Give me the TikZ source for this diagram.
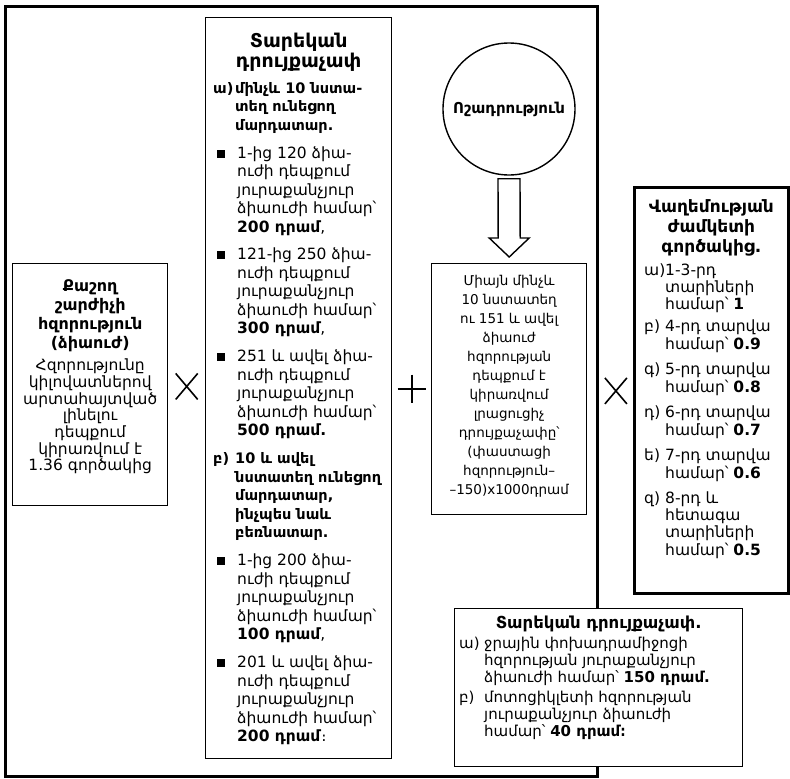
\documentclass[tikz,border=0pt]{standalone}
\usepackage{fontspec}
\setmainfont{DejaVu Sans}
\usetikzlibrary{positioning,calc}

\newcommand{\hangrow}[3]{\begin{tabular}[t]{@{}l@{}l@{}}\makebox[#1][l]{#2}&\begin{tabular}[t]{@{}l@{}}#3\end{tabular}\end{tabular}}
\newcommand{\blt}{\hspace*{4pt}\rule[0.5pt]{8pt}{8pt}}

\begin{document}
\begin{tikzpicture}[x=1pt, y=-1pt,
    box/.style={draw, line width=1.4pt, fill=white, inner sep=0pt, anchor=north west},
    heavybox/.style={box, line width=2.8pt},
    body/.style={inner sep=0pt, font=\fontsize{15.5}{18.5}\selectfont},
    bodybold/.style={inner sep=0pt, font=\bfseries\fontsize{14.5}{18.5}\selectfont},
    side/.style={inner sep=0pt, font=\fontsize{15.5}{17}\selectfont},
    head/.style={inner sep=0pt, align=center, font=\bfseries\fontsize{16}{19}\selectfont},
    sign/.style={line width=1.6pt}]
    \useasboundingbox (0,0) rectangle (790,779);

    \node[heavybox, minimum width=592, minimum height=770] (frame) at (4,5) {};
    \node[box, minimum width=186, minimum height=741] (tariff) at (205,17) {};
    \node[box, minimum width=155, minimum height=242] (power) at (12,263) {};
    \node[box, minimum width=155, minimum height=251] (extra) at (431,263) {};
    \node[draw, circle, line width=1.4pt, minimum size=132, inner sep=0pt,
        font=\bfseries\fontsize{15}{19}\selectfont] (notice) at (509,109) {Ոշադրություն};
    \node[heavybox, minimum width=154, minimum height=406] (age) at (633,186) {};
    \node[box, minimum width=288, minimum height=158] (boat) at (454,608) {};

    \draw[line width=1.4pt, fill=white]
        ([shift={(-11,3)}]notice.south) -- ([shift={(-11,-25)}]extra.north)
        -- ([shift={(-20,-25)}]extra.north) -- ([shift={(0,-6)}]extra.north)
        -- ([shift={(20,-25)}]extra.north) -- ([shift={(11,-25)}]extra.north)
        -- ([shift={(11,3)}]notice.south) -- cycle;

    \coordinate (mulA) at ($(power.east)!0.5!(tariff.west)$);
    \coordinate (plusB) at ($(tariff.east)!0.5!(extra.west)$);
    \coordinate (mulC) at ($(frame.east)!0.5!(age.west)$);
    \draw[sign] ([shift={(-11,-13)}]mulA) -- ([shift={(11,13)}]mulA)
        ([shift={(-11,13)}]mulA) -- ([shift={(11,-13)}]mulA);
    \draw[sign] ([shift={(-14,0)}]plusB) -- ([shift={(14,0)}]plusB)
        ([shift={(0,-14)}]plusB) -- ([shift={(0,14)}]plusB);
    \draw[sign] ([shift={(-11,-13)}]mulC) -- ([shift={(11,13)}]mulC)
        ([shift={(-11,13)}]mulC) -- ([shift={(11,-13)}]mulC);

    \node[head, below=16pt of power.north] (powerhead) {Քաշող\\շարժիչի\\հզորություն\\(ձիաուժ)};
    \node[body, align=center, font=\fontsize{15.5}{16.7}\selectfont,
        below=7pt of powerhead] (powernote)
        {Հզորությունը\\կիլովատներով\\արտահայտված\\լինելու\\դեպքում\\կիրառվում է\\1.36 գործակից};

    \node[head, font=\bfseries\fontsize{19}{20}\selectfont,
        below=16pt of tariff.north] (tariffhead) {Տարեկան\\դրույքաչափ};
    \node[bodybold, anchor=north west] (cara) at (213,80)
        {\hangrow{22pt}{ա)}{մինչև 10 նստա-\\տեղ ունեցող\\մարդատար.}};
    \node[body, below=9pt of cara.south west, anchor=north west] (carA1)
        {\hangrow{24pt}{\blt}{1-ից 120 ձիա-\\ուժի դեպքում\\յուրաքանչյուր\\ձիաուժի համար՝\\\textbf{200 դրամ},}};
    \node[body, below=9pt of carA1.south west, anchor=north west] (carA2)
        {\hangrow{24pt}{\blt}{121-ից 250 ձիա-\\ուժի դեպքում\\յուրաքանչյուր\\ձիաուժի համար՝\\\textbf{300 դրամ},}};
    \node[body, below=9pt of carA2.south west, anchor=north west] (carA3)
        {\hangrow{24pt}{\blt}{251 և ավել ձիա-\\ուժի դեպքում\\յուրաքանչյուր\\ձիաուժի համար՝\\\textbf{500 դրամ.}}};
    \node[bodybold, below=9pt of carA3.south west, anchor=north west] (carb)
        {\hangrow{22pt}{բ)}{10 և ավել\\նստատեղ ունեցող\\մարդատար,\\ինչպես նաև\\բեռնատար.}};
    \node[body, below=9pt of carb.south west, anchor=north west] (carB1)
        {\hangrow{24pt}{\blt}{1-ից 200 ձիա-\\ուժի դեպքում\\յուրաքանչյուր\\ձիաուժի համար՝\\\textbf{100 դրամ},}};
    \node[body, below=9pt of carB1.south west, anchor=north west] (carB2)
        {\hangrow{24pt}{\blt}{201 և ավել ձիա-\\ուժի դեպքում\\յուրաքանչյուր\\ձիաուժի համար՝\\\textbf{200 դրամ}։}};

    \node[body, align=center, font=\fontsize{13.5}{19}\selectfont,
        below=12pt of extra.north] (extratext)
        {Միայն մինչև\\10 նստատեղ\\ու 151 և ավել\\ձիաուժ\\հզորության\\դեպքում է\\կիրառվում\\լրացուցիչ\\դրույքաչափը՝\\(փաստացի\\հզորություն–\\–150)x1000դրամ};

    \node[head, font=\bfseries\fontsize{17}{20}\selectfont,
        below=13pt of age.north] (agehead) {Վաղեմության\\ժամկետի\\գործակից.};
    \node[side, anchor=north west] (ageA)
        at ($(age.west |- agehead.south)+(11,7)$)
        {\hangrow{21pt}{ա)}{1-3-րդ\\տարիների\\համար՝ \textbf{1}}};
    \node[side, below=5pt of ageA.south west, anchor=north west] (ageB)
        {\hangrow{21pt}{բ)}{4-րդ տարվա\\համար՝ \textbf{0.9}}};
    \node[side, below=8pt of ageB.south west, anchor=north west] (ageC)
        {\hangrow{21pt}{գ)}{5-րդ տարվա\\համար՝ \textbf{0.8}}};
    \node[side, below=8pt of ageC.south west, anchor=north west] (ageD)
        {\hangrow{21pt}{դ)}{6-րդ տարվա\\համար՝ \textbf{0.7}}};
    \node[side, below=8pt of ageD.south west, anchor=north west] (ageE)
        {\hangrow{21pt}{ե)}{7-րդ տարվա\\համար՝ \textbf{0.6}}};
    \node[side, below=8pt of ageE.south west, anchor=north west] (ageF)
        {\hangrow{21pt}{զ)}{8-րդ և\\հետագա\\տարիների\\համար՝ \textbf{0.5}}};

    \node[head, font=\bfseries\fontsize{16.5}{19}\selectfont,
        below=8pt of boat.north] (boathead) {Տարեկան դրույքաչափ.};
    \node[body, font=\fontsize{15}{17}\selectfont, anchor=north west] (boatA)
        at ($(boat.west |- boathead.south)+(5,4)$)
        {\hangrow{25pt}{ա)}{ջրային փոխադրամիջոցի\\հզորության յուրաքանչյուր\\ձիաուժի համար՝ \textbf{150 դրամ.}}};
    \node[body, font=\fontsize{15}{17}\selectfont, below=2pt of boatA.south west, anchor=north west] (boatB)
        {\hangrow{25pt}{բ)}{մոտոցիկլետի հզորության\\յուրաքանչյուր ձիաուժի\\համար՝ \textbf{40 դրամ։}}};
\end{tikzpicture}
\end{document}
